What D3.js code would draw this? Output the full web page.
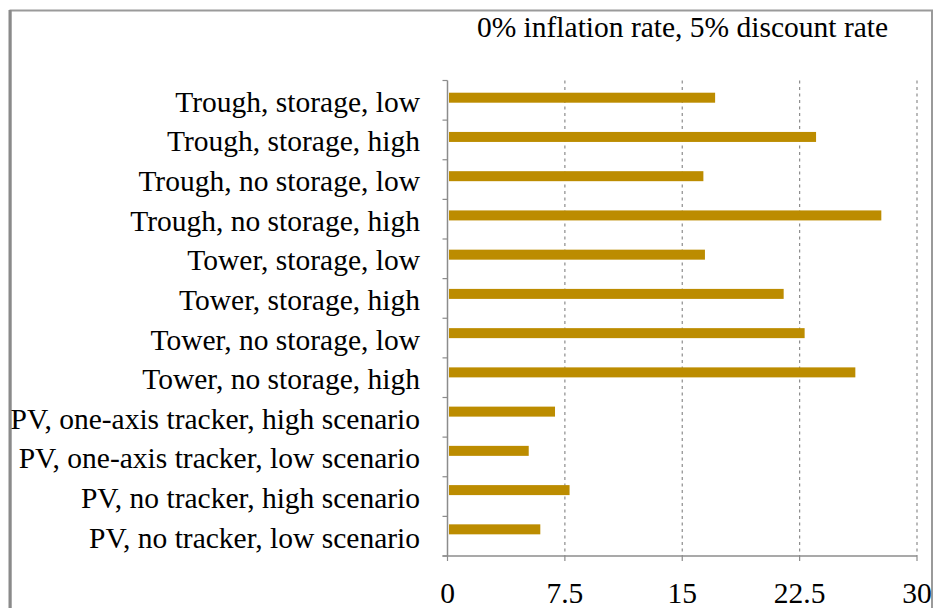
<!DOCTYPE html>
<html><head><meta charset="utf-8">
<script src="https://cdn.jsdelivr.net/npm/d3@7"></script>
<style>
html,body{margin:0;padding:0;background:#fff;}
svg{display:block;}
</style></head>
<body>
<svg id="chart" width="933" height="608"></svg>
<script>
const categories = [
  "Trough, storage, low",
  "Trough, storage, high",
  "Trough, no storage, low",
  "Trough, no storage, high",
  "Tower, storage, low",
  "Tower, storage, high",
  "Tower, no storage, low",
  "Tower, no storage, high",
  "PV, one-axis tracker, high scenario",
  "PV, one-axis tracker, low scenario",
  "PV, no tracker, high scenario",
  "PV, no tracker, low scenario"
];
const values = [17.1, 23.55, 16.35, 27.72, 16.45, 21.48, 22.82, 26.06, 6.87, 5.19, 7.8, 5.93];
const xTicks = [0, 7.5, 15, 22.5, 30];
const title = "0% inflation rate, 5% discount rate";

const svg = d3.select("#chart");
const font = "Liberation Serif, Times New Roman, serif";
const fs = "29.5px";
const L = 447.5, R = 917, T = 80.5, B = 556;

// frame
svg.append("rect").attr("x", 10.5).attr("y", 10.5).attr("width", 921.5).attr("height", 620)
  .attr("fill", "none").attr("stroke", "#9a9a9a").attr("stroke-width", 2);
svg.append("line").attr("x1", 10).attr("x2", 10).attr("y1", 10).attr("y2", 608)
  .attr("stroke", "#8a8a8a").attr("stroke-width", 3);

const x = d3.scaleLinear().domain([0, 30]).range([L, R]);
const y = d3.scaleBand().domain(categories).range([T, B]).paddingInner(0).paddingOuter(0);
// bars sit on a slightly tighter band than the category ticks
const yBar = d3.scaleBand().domain(categories).range([92.7, 92.7 + 12 * 39.24]);

// gridlines
svg.append("g").selectAll("line").data(xTicks.filter(d => d > 0)).join("line")
  .attr("x1", d => x(d)).attr("x2", d => x(d)).attr("y1", T).attr("y2", B)
  .attr("stroke", "#8c8c8c").attr("stroke-width", 1.2).attr("stroke-dasharray", "3,3.5");

// bars
svg.append("g").selectAll("rect").data(values).join("rect")
  .attr("x", x(0) + 1.5)
  .attr("y", (d, i) => yBar(categories[i]))
  .attr("width", d => x(d) - x(0) - 1.5)
  .attr("height", 10)
  .attr("fill", "#bc8c00");

// y axis
const yAxis = svg.append("g");
yAxis.append("line").attr("x1", L).attr("x2", L).attr("y1", T).attr("y2", B)
  .attr("stroke", "#8c8c8c").attr("stroke-width", 1.5);
const bounds = categories.map(c => y(c)).concat([B]);
yAxis.selectAll("line.tk").data(bounds).join("line").attr("class", "tk")
  .attr("x1", L - 5).attr("x2", L).attr("y1", d => d).attr("y2", d => d)
  .attr("stroke", "#8c8c8c").attr("stroke-width", 1.2);
yAxis.selectAll("text").data(categories).join("text")
  .attr("x", 420).attr("y", d => y(d) + y.bandwidth() / 2 + 11.5)
  .attr("text-anchor", "end").style("font-family", font).style("font-size", fs)
  .attr("fill", "#000").text(d => d);

// x axis
const xAxis = svg.append("g");
xAxis.append("line").attr("x1", L - 5).attr("x2", R).attr("y1", B).attr("y2", B)
  .attr("stroke", "#8c8c8c").attr("stroke-width", 1.5);
xAxis.selectAll("line.tk").data(xTicks).join("line").attr("class", "tk")
  .attr("x1", d => x(d)).attr("x2", d => x(d)).attr("y1", B).attr("y2", B + 5)
  .attr("stroke", "#8c8c8c").attr("stroke-width", 1.2);
xAxis.selectAll("text").data(xTicks).join("text")
  .attr("x", d => x(d)).attr("y", 603)
  .attr("text-anchor", "middle").style("font-family", font).style("font-size", fs)
  .attr("fill", "#000").text(d => d);

// title
svg.append("text").attr("x", 682.5).attr("y", 37).attr("text-anchor", "middle")
  .style("font-family", font).style("font-size", fs).attr("fill", "#000").text(title);
</script>
</body></html>
